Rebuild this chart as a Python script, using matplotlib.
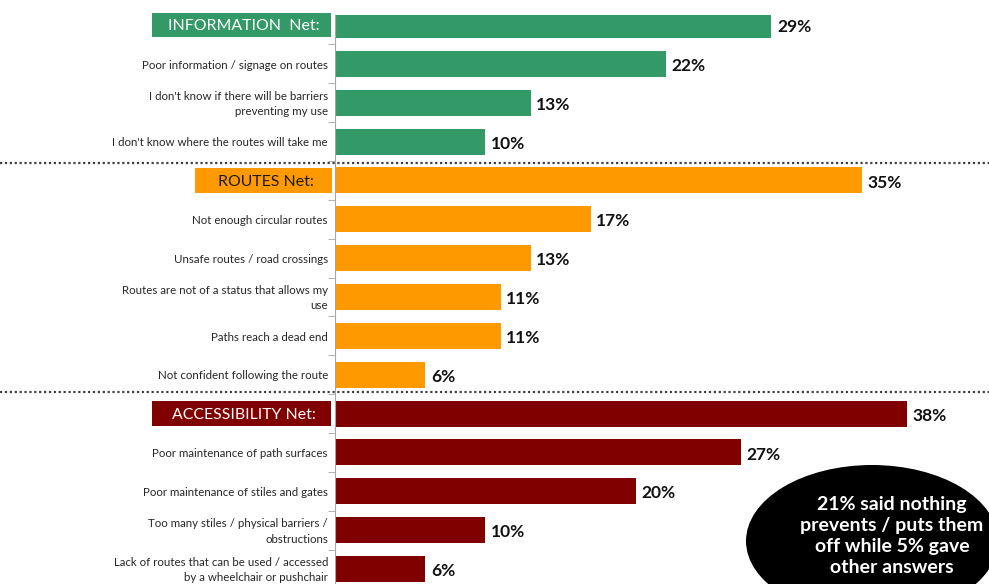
import matplotlib
matplotlib.use("Agg")
import matplotlib.pyplot as plt
from matplotlib.patches import Ellipse, Rectangle
from matplotlib.transforms import blended_transform_factory

plt.rcParams['font.family'] = ['Lato', 'DejaVu Sans']

categories = [
    "INFORMATION  Net:",
    "Poor information / signage on routes",
    "I don't know if there will be barriers\npreventing my use",
    "I don't know where the routes will take me",
    "ROUTES Net:",
    "Not enough circular routes",
    "Unsafe routes / road crossings",
    "Routes are not of a status that allows my\nuse",
    "Paths reach a dead end",
    "Not confident following the route",
    "ACCESSIBILITY Net:",
    "Poor maintenance of path surfaces",
    "Poor maintenance of stiles and gates",
    "Too many stiles / physical barriers /\nobstructions",
    "Lack of routes that can be used / accessed\nby a wheelchair or pushchair",
]
values = [29, 22, 13, 10, 35, 17, 13, 11, 11, 6, 38, 27, 20, 10, 6]
groups = ["info"] * 4 + ["routes"] * 6 + ["access"] * 5
net_rows = [0, 4, 10]
note = "21% said nothing\nprevents / puts them\noff while 5% gave\nother answers"

colors = {"info": "#339966", "routes": "#FF9900", "access": "#800000"}
net_text_color = {"info": "white", "routes": "#1a1a1a", "access": "white"}

W, H = 989, 584
fig = plt.figure(figsize=(W / 100, H / 100), dpi=100)
ax = fig.add_axes([335 / W, 0, (982 - 335) / W, 1 - 15 / H])

ys = list(range(len(values)))
ax.barh(ys, values, height=0.67, color=[colors[g] for g in groups], zorder=2)
ax.set_xlim(0, 43)
ax.set_ylim(14.385, -0.257)

for y, v in zip(ys, values):
    ax.annotate(f"{v}%", (v, y), xytext=(4, -1.5), textcoords="offset points",
                va="center", ha="left", fontsize=12.5, fontweight="bold", color="#111111")

# axis styling
for s in ["top", "right", "bottom"]:
    ax.spines[s].set_visible(False)
ax.spines["left"].set_color("#a6a6a6")
ax.set_xticks([])
ax.set_yticks([])
ax.set_yticks([y + 0.5 for y in ys[:-1]], minor=True)
ax.tick_params(axis="y", which="minor", length=5, color="#a6a6a6", labelleft=False)

# category labels
lbl_tf = blended_transform_factory(fig.transFigure, ax.transData)
for y, (cat, g) in enumerate(zip(categories, groups)):
    if y in net_rows:
        continue
    ax.text(328 / W, y + 0.03, cat, transform=lbl_tf, ha="right", va="center",
            fontsize=8.3, color="#262626", linespacing=1.5)

# net headers in coloured boxes
net_boxes = {0: (152, 331), 4: (195, 332), 10: (152, 331)}
for y in net_rows:
    g = groups[y]
    x0, x1 = net_boxes[y]
    ax.add_patch(Rectangle((x0 / W, y - 0.32), (x1 - x0) / W, 0.64, transform=lbl_tf,
                           facecolor=colors[g], edgecolor="none", clip_on=False))
    ax.text((x0 + x1) / 2 / W + 2 / W, y + 0.03, categories[y], transform=lbl_tf, ha="center",
            va="center", fontsize=11.4, color=net_text_color[g])

# dotted separators between groups
for sep in [3.55, 9.45]:
    ax.plot([0, 1], [sep, sep], transform=lbl_tf, color="#404040", lw=1.6,
            linestyle=(0, (1, 1.2)), clip_on=False, zorder=3)

# black call-out ellipse
ell = Ellipse((872 / W, 1 - 541 / H), 252 / W, 152 / H, transform=fig.transFigure,
              facecolor="black", edgecolor="none")
fig.patches.append(ell)
fig.text(892 / W, 1 - 536 / H, note, ha="center", va="center", color="white",
         fontsize=14, fontweight="bold", linespacing=1.3)

fig.savefig("out.png", dpi=100)
